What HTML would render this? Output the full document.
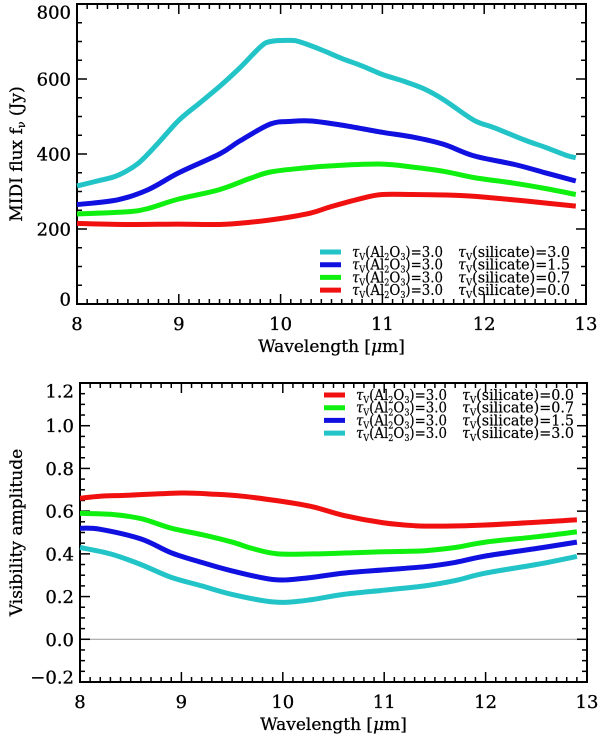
<!DOCTYPE html>
<html><head><meta charset="utf-8"><style>
body{margin:0;background:#fff}
svg text{font-family:"DejaVu Serif","Liberation Serif",serif;fill:#000}
</style></head><body>
<svg id="c" width="600" height="737" viewBox="0 0 600 737"></svg>
<script>
// ---- top panel data (flux, Jy) ----
const topCyanX=[8,8.2,8.4,8.6,8.8,9.0,9.2,9.4,9.6,9.8,9.9,10.1,10.2,10.4,10.6,10.8,11.0,11.2,11.4,11.6,11.9,12.1,12.4,12.6,12.8,12.9];
const topCyanY=[315,328,343,375,430,490,535,580,630,685,700,703,698,678,655,635,612,595,575,545,490,470,437,418,397,390];
const topBlueX=[8,8.4,8.7,9.0,9.4,9.6,9.9,10.1,10.3,10.6,11.0,11.3,11.6,11.9,12.3,12.6,12.9];
const topBlueY=[265,278,305,350,400,435,480,487,488,477,458,445,426,395,372,350,328];
const topGreenX=[8,8.5,8.7,9.0,9.4,9.7,9.9,10.2,10.6,11.0,11.3,11.6,11.9,12.3,12.6,12.9];
const topGreenY=[240,246,255,280,305,335,352,362,370,373,365,354,337,322,308,292];
const topRedX=[8,8.5,9.0,9.4,9.7,10.0,10.3,10.5,10.8,11.0,11.3,11.7,12.0,12.4,12.9];
const topRedY=[215,212,213,212,218,228,243,260,282,292,292,290,285,275,261];
// ---- bottom panel data (visibility) ----
const botRedX=[8,8.2,8.5,9.0,9.3,9.6,10.0,10.3,10.6,11.0,11.3,11.6,12.0,12.5,12.9];
const botRedY=[0.66,0.67,0.675,0.685,0.68,0.67,0.645,0.62,0.58,0.545,0.532,0.53,0.535,0.548,0.56];
const botGreenX=[8,8.3,8.6,8.9,9.2,9.5,9.7,9.95,10.3,10.7,11.0,11.4,11.7,12.0,12.5,12.9];
const botGreenY=[0.59,0.585,0.565,0.52,0.49,0.455,0.425,0.4,0.4,0.405,0.41,0.415,0.43,0.455,0.48,0.503];
const botBlueX=[8,8.2,8.6,8.9,9.2,9.5,9.9,10.2,10.6,11.0,11.4,11.7,12.0,12.5,12.9];
const botBlueY=[0.52,0.515,0.47,0.405,0.36,0.32,0.28,0.285,0.31,0.325,0.34,0.36,0.39,0.425,0.455];
const botCyanX=[8,8.3,8.6,8.9,9.2,9.5,9.9,10.2,10.6,11.0,11.4,11.7,12.0,12.5,12.9];
const botCyanY=[0.43,0.4,0.35,0.29,0.25,0.21,0.175,0.18,0.21,0.23,0.25,0.275,0.31,0.35,0.388];
const xTicks=[8,9,10,11,12,13];
const topYTicks=[0,200,400,600,800];
const botYTicks=[-0.2,0.0,0.2,0.4,0.6,0.8,1.0,1.2];
const legendTau=["3.0","3.0","3.0","3.0"];
const topLegendSil=["3.0","1.5","0.7","0.0"];
const botLegendSil=["0.0","0.7","1.5","3.0"];

const NS="http://www.w3.org/2000/svg";
const svg=document.getElementById('c');
function mk(tag,attrs,parent){const e=document.createElementNS(NS,tag);for(const k in attrs)e.setAttribute(k,attrs[k]);(parent||svg).appendChild(e);return e;}
function smooth(pts){
  let d='M'+pts[0][0].toFixed(1)+','+pts[0][1].toFixed(1);
  for(let i=0;i<pts.length-1;i++){
    const p0=pts[Math.max(0,i-1)],p1=pts[i],p2=pts[i+1],p3=pts[Math.min(pts.length-1,i+2)];
    const c1=[p1[0]+(p2[0]-p0[0])/6,p1[1]+(p2[1]-p0[1])/6],c2=[p2[0]-(p3[0]-p1[0])/6,p2[1]-(p3[1]-p1[1])/6];
    d+=` C${c1[0].toFixed(1)},${c1[1].toFixed(1)} ${c2[0].toFixed(1)},${c2[1].toFixed(1)} ${p2[0].toFixed(1)},${p2[1].toFixed(1)}`;
  }
  return d;
}

function panel(P){
  const g=mk('g',{});
  
  
  const sx=v=>P.x0+(v-8)/5*(P.x1-P.x0);
  const sy=v=>P.y1-(v-P.ymin)/(P.ymax-P.ymin)*(P.y1-P.y0);
  if(P.zero){const z=mk('line',{x1:P.x0,x2:P.x1,y1:sy(0),y2:sy(0),stroke:'#999','stroke-width':1},g);
    }
  for(let i=0;i<=50;i++){const v=8+i*0.1,x=sx(v),L=(i%10===0)?10:5;
    mk('line',{x1:x,x2:x,y1:P.y1,y2:P.y1-L,stroke:'#000','stroke-width':1.5},g);
    mk('line',{x1:x,x2:x,y1:P.y0,y2:P.y0+L,stroke:'#000','stroke-width':1.5},g);}
  const ystep=P.minor;const n=Math.round((P.ymax-P.ymin)/ystep);
  for(let i=0;i<=n;i++){const v=P.ymin+i*ystep,y=sy(v),L=(i%P.per===0)?10:5;
    mk('line',{x1:P.x0,x2:P.x0+L,y1:y,y2:y,stroke:'#000','stroke-width':1.5},g);
    mk('line',{x1:P.x1,x2:P.x1-L,y1:y,y2:y,stroke:'#000','stroke-width':1.5},g);}
  const fr=mk('rect',{x:P.x0,y:P.y0,width:P.x1-P.x0,height:P.y1-P.y0,fill:'none',stroke:'#000','stroke-width':2},g);
  
  xTicks.forEach(v=>{const t=mk('text',{x:sx(v),y:P.y1+26,'text-anchor':'middle','font-size':18,stroke:'#000','stroke-width':0.3},g);t.textContent=v;
    });
  P.yticks.forEach(v=>{let yc=Math.min(Math.max(sy(v),P.y0+8),P.y1-5);
    const t=mk('text',{x:P.x0-6,y:yc+6.5,'text-anchor':'end','font-size':18,stroke:'#000','stroke-width':0.3},g);
    t.textContent=P.fmt(v);});
  const xt=mk('text',{x:(P.x0+P.x1)/2,y:P.y1+48,'text-anchor':'middle','font-size':17,stroke:'#000','stroke-width':0.3},g);
  xt.innerHTML='Wavelength [<tspan font-style="italic">μ</tspan>m]';
  
  const yt=mk('text',{transform:`translate(22,${(P.y0+P.y1)/2}) rotate(-90)`,'text-anchor':'middle','font-size':17,stroke:'#000','stroke-width':0.3},g);
  yt.innerHTML=P.ytitle;
  P.series.forEach(s=>{
    const d=smooth(s.x.map((v,i)=>[sx(v),sy(s.y[i])]));
    const p=mk('path',{d:d,fill:'none',stroke:s.c,'stroke-width':5,'stroke-linejoin':'round','stroke-linecap':'butt'},g);
    });
  P.legend.forEach((l,i)=>{const y=P.ly+i*12.7;
    const lg=mk('g',{},g);
    mk('line',{x1:P.lx,x2:P.lx+21,y1:y,y2:y,stroke:l.c,'stroke-width':5},lg);
    const t=mk('text',{x:P.lx+32,y:y+5,'font-size':15,stroke:'#000','stroke-width':0.2,textLength:91,lengthAdjust:'spacingAndGlyphs'},lg);
    t.innerHTML=`<tspan font-style="italic">τ</tspan><tspan font-size="9" dy="3">V</tspan><tspan dy="-3">(Al</tspan><tspan font-size="9" dy="3">2</tspan><tspan dy="-3">O</tspan><tspan font-size="9" dy="3">3</tspan><tspan dy="-3">)=${legendTau[i]}</tspan>`;
    const t2=mk('text',{x:P.lx+138,y:y+5,'font-size':15,stroke:'#000','stroke-width':0.2,textLength:112,lengthAdjust:'spacingAndGlyphs'},lg);
    t2.innerHTML=`<tspan font-style="italic">τ</tspan><tspan font-size="9" dy="3">V</tspan><tspan dy="-3">(silicate)=${l.s}</tspan>`;
  });
}
panel({name:'flux-panel',x0:77,x1:586,y0:4,y1:304,ymin:0,ymax:800,minor:50,per:4,yticks:topYTicks,fmt:v=>String(v),
  ytitle:'MIDI flux f<tspan font-size="11" dy="3">ν</tspan><tspan dy="-3"> (Jy)</tspan>',
  lx:320,ly:252,
  legend:[{c:'#22c4c8',s:topLegendSil[0]},{c:'#1010e0',s:topLegendSil[1]},{c:'#10f010',s:topLegendSil[2]},{c:'#f01010',s:topLegendSil[3]}],
  series:[{x:topCyanX,y:topCyanY,c:'#22c4c8',n:'flux-series-sil-3.0'},{x:topBlueX,y:topBlueY,c:'#1010e0',n:'flux-series-sil-1.5'},
          {x:topGreenX,y:topGreenY,c:'#10f010',n:'flux-series-sil-0.7'},{x:topRedX,y:topRedY,c:'#f01010',n:'flux-series-sil-0.0'}]});
panel({name:'visibility-panel',x0:80,x1:587,y0:383,y1:682,ymin:-0.2,ymax:1.2,minor:0.05,per:4,yticks:botYTicks,zero:true,
  fmt:v=>(v<0?'−':'')+Math.abs(v).toFixed(1),
  ytitle:'Visibility amplitude',
  lx:324,ly:395,
  legend:[{c:'#f01010',s:botLegendSil[0]},{c:'#10f010',s:botLegendSil[1]},{c:'#1010e0',s:botLegendSil[2]},{c:'#22c4c8',s:botLegendSil[3]}],
  series:[{x:botRedX,y:botRedY,c:'#f01010',n:'vis-series-sil-0.0'},{x:botGreenX,y:botGreenY,c:'#10f010',n:'vis-series-sil-0.7'},
          {x:botBlueX,y:botBlueY,c:'#1010e0',n:'vis-series-sil-1.5'},{x:botCyanX,y:botCyanY,c:'#22c4c8',n:'vis-series-sil-3.0'}]});
</script>
</body></html>
